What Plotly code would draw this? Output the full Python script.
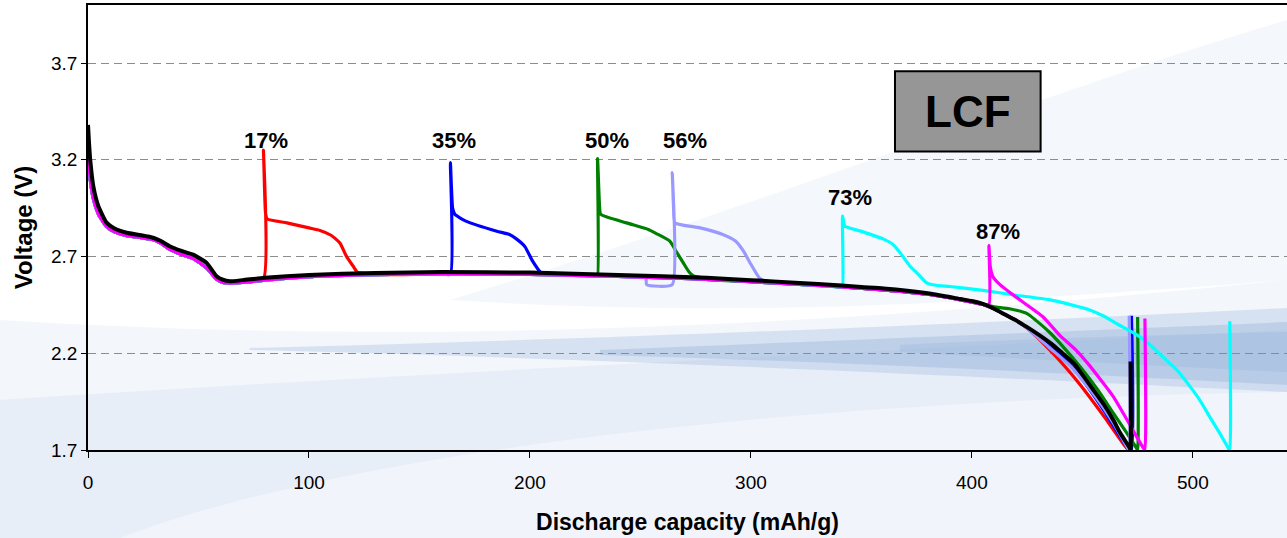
import plotly.graph_objects as go

# ---------------- data ----------------
# common discharge path shared by the interrupted (coloured) runs
common_x = [0, 1, 2.4, 4.7, 8.4, 12, 17.5, 24, 29.5, 33, 37, 42, 47.6, 53.7, 58.2, 61, 64.2, 70,
            80, 100, 130, 160, 200, 230, 250, 265, 280, 300, 320, 341, 360, 380, 395, 405]
common_v = [3.24, 3.10, 3.00, 2.92, 2.855, 2.828, 2.808, 2.797, 2.787, 2.768, 2.737, 2.712, 2.69,
            2.64, 2.582, 2.566, 2.562, 2.566, 2.578, 2.595, 2.606, 2.61, 2.608, 2.60, 2.594, 2.588,
            2.582, 2.57, 2.557, 2.543, 2.528, 2.505, 2.476, 2.452]

# continuous reference discharge (black)
black_x = [0, 0.5, 1, 2.4, 4.7, 8.4, 12, 17.5, 24, 29.5, 33, 37, 42, 47.6, 53.7, 58.2, 61, 64.2,
           70, 80, 100, 130, 160, 200, 240, 280, 300, 320, 341, 350, 360, 380, 395, 400, 405, 410,
           415, 420, 425, 431, 437, 441, 446, 449, 455, 460, 464, 467, 470, 471.5, 471.8, 471.8]
black_v = [3.38, 3.28, 3.20, 3.064, 2.96, 2.875, 2.845, 2.823, 2.81, 2.797, 2.78, 2.753, 2.73,
           2.71, 2.667, 2.598, 2.58, 2.572, 2.578, 2.59, 2.605, 2.615, 2.62, 2.617, 2.605, 2.59,
           2.578, 2.565, 2.55, 2.542, 2.535, 2.51, 2.48, 2.47, 2.455, 2.43, 2.40, 2.37, 2.335,
           2.29, 2.24, 2.20, 2.15, 2.105, 2.01, 1.93, 1.855, 1.79, 1.736, 1.71, 1.70, 2.157]

# 17 %
red_detour_x = [79.4, 79.4, 80.3, 81, 90, 100, 105, 110, 114, 117, 120, 122, 126]
red_detour_v = [2.585, 3.25, 2.93, 2.895, 2.874, 2.848, 2.835, 2.81, 2.77, 2.70, 2.65, 2.618, 2.612]
red_tail_x = [410, 415, 420, 426, 435, 443, 449, 460, 470, 471.5, 471.5]
red_tail_v = [2.43, 2.40, 2.37, 2.32, 2.22, 2.12, 2.037, 1.87, 1.71, 1.70, 2.39]

# 35 %
blue_detour_x = [164, 164, 165, 166, 171, 185, 190.5, 194, 197.8, 201, 205, 208]
blue_detour_v = [2.608, 3.185, 2.95, 2.918, 2.883, 2.831, 2.815, 2.79, 2.75, 2.68, 2.617, 2.61]
blue_tail_x = [410, 415, 420, 430, 440, 449, 460, 470, 472.2, 472.2]
blue_tail_v = [2.43, 2.40, 2.37, 2.29, 2.20, 2.08, 1.90, 1.72, 1.70, 2.394]

# 50 %
green_detour_x = [230.6, 230.6, 231.5, 232, 243.7, 253.6, 257, 263.3, 266, 269.4, 272, 274, 278]
green_detour_v = [2.60, 3.206, 2.96, 2.918, 2.874, 2.84, 2.82, 2.78, 2.73, 2.667, 2.62, 2.60, 2.59]
green_tail_x = [410, 417, 425, 429, 435, 440, 449, 457, 464, 470, 474.5, 475, 475]
green_tail_v = [2.44, 2.43, 2.405, 2.37, 2.31, 2.25, 2.13, 2.01, 1.89, 1.79, 1.71, 1.70, 2.387]

# 56 %
lav_detour_x = [252.5, 252.8, 264.4, 264.4, 265, 265.6, 277, 287, 293, 296.5, 300, 303.8, 306, 312]
lav_detour_v = [2.596, 2.555, 2.555, 3.134, 2.95, 2.874, 2.848, 2.815, 2.78, 2.73, 2.66, 2.59,
                2.575, 2.565]
lav_tail_x = [415, 425, 435, 445, 455, 464, 470.5, 471.2, 471.2]
lav_tail_v = [2.40, 2.33, 2.23, 2.13, 1.99, 1.84, 1.71, 1.70, 2.394]

# 73 %
cyan_detour_x = [341.5, 341.5, 342.5, 350, 360, 364, 367.5, 372, 375, 379.5, 383, 390, 405, 420,
                 435, 445, 453, 460, 466, 474.5, 480, 486.5, 493, 498.6, 503, 507.7, 512, 516,
                 516.7, 516.7]
cyan_detour_v = [2.545, 2.909, 2.857, 2.83, 2.79, 2.765, 2.72, 2.65, 2.617, 2.564, 2.553, 2.545,
                 2.525, 2.50, 2.477, 2.45, 2.425, 2.39, 2.35, 2.296, 2.25, 2.18, 2.11, 2.03, 1.96,
                 1.87, 1.79, 1.71, 1.70, 2.365]

# 87 %
mag_detour_x = [407.7, 407.7, 408.3, 409.5, 412.7, 420, 432, 440, 447, 453, 464, 470, 475, 477.6,
                478.3, 478.3]
mag_detour_v = [2.45, 2.757, 2.65, 2.596, 2.555, 2.49, 2.39, 2.29, 2.218, 2.14, 1.976, 1.86, 1.76,
                1.71, 1.70, 2.38]

labels = ["17%", "35%", "50%", "56%", "73%", "87%"]
label_x = [80.5, 165.6, 234.8, 270, 344.8, 411.8]
label_v = [3.30, 3.30, 3.30, 3.30, 3.006, 2.83]

x_ticks = [0, 100, 200, 300, 400, 500]
y_ticks = [1.7, 2.2, 2.7, 3.2, 3.7]


def build(start, detour_x, detour_v, rejoin=None, tail_x=None, tail_v=None):
    xs = [x for x in common_x if x < start]
    vs = [v for x, v in zip(common_x, common_v) if x < start]
    xs += detour_x
    vs += detour_v
    if rejoin is not None:
        for x, v in zip(common_x, common_v):
            if rejoin < x <= 405:
                xs.append(x)
                vs.append(v)
        xs += tail_x
        vs += tail_v
    return xs, vs


series = [
    ("17%", "#ff0000", build(79.4, red_detour_x, red_detour_v, 126, red_tail_x, red_tail_v)),
    ("35%", "#0000ff", build(164, blue_detour_x, blue_detour_v, 208, blue_tail_x, blue_tail_v)),
    ("50%", "#008000", build(230.6, green_detour_x, green_detour_v, 278, green_tail_x, green_tail_v)),
    ("56%", "#9999ff", build(252.5, lav_detour_x, lav_detour_v, 312, lav_tail_x, lav_tail_v)),
    ("73%", "#00ffff", build(341.5, cyan_detour_x, cyan_detour_v)),
    ("87%", "#ff00ff", build(407.7, mag_detour_x, mag_detour_v)),
]

fig = go.Figure()
for name, col, (xs, vs) in series:
    fig.add_trace(go.Scatter(x=xs, y=vs, mode="lines", name=name,
                             line=dict(color=col, width=3.2, shape="spline", smoothing=0.5)))
fig.add_trace(go.Scatter(x=black_x, y=black_v, mode="lines", name="continuous",
                         line=dict(color="#000000", width=4, shape="spline", smoothing=0.5)))

FONT = "Liberation Sans, Arial, sans-serif"

for t, x, v in zip(labels, label_x, label_v):
    fig.add_annotation(x=x, y=v, text="<b>%s</b>" % t, showarrow=False,
                       font=dict(family=FONT, size=22, color="black"),
                       xanchor="center", yanchor="middle")

# LCF box
fig.add_shape(type="rect", x0=365.2, x1=431.1, y0=3.243, y1=3.657,
              fillcolor="#969696", line=dict(color="black", width=2), layer="above")
fig.add_annotation(x=398.2, y=3.45, text="<b>LCF</b>", showarrow=False,
                   font=dict(family=FONT, size=44, color="black"),
                   xanchor="center", yanchor="middle")

# decorative background swooshes (pixel paths -> paper coords)
L, R, T, B = 88.3, 1287.0, 5.0, 450.0


def ppath(cmds):
    out = []
    for c in cmds:
        if isinstance(c, str):
            out.append(c)
        else:
            px, py = c
            out.append("%.4f,%.4f" % ((px - L) / (R - L), (B - py) / (B - T)))
    return " ".join(out)


bg = [
    # broad pale wash over the lower part
    (["M", (0, 538), "L", (0, 320), "C", (400, 345), (800, 330), (1287, 280), "L", (1287, 538), "Z"],
     "rgba(215,226,242,0.30)"),
    (["M", (0, 538), "L", (0, 400), "C", (300, 380), (700, 360), (1287, 330), "L", (1287, 538), "Z"],
     "rgba(200,215,238,0.25)"),
    # faint upper-right wedge
    (["M", (450, 300), "C", (750, 210), (1050, 90), (1287, 20), "L", (1287, 280), "C", (900, 310),
      (700, 315), (450, 300), "Z"], "rgba(220,230,244,0.30)"),
    # horizontal darker band tapering to the left
    (["M", (250, 348), "C", (650, 338), (1000, 322), (1287, 308), "L", (1287, 392), "C", (1000, 378),
      (650, 360), (250, 350), "Z"], "rgba(150,178,220,0.30)"),
    (["M", (600, 350), "C", (850, 340), (1100, 330), (1287, 322), "L", (1287, 385), "C", (1100, 375),
      (850, 362), (600, 355), "Z"], "rgba(140,170,215,0.32)"),
    (["M", (900, 345), "C", (1050, 338), (1200, 334), (1287, 332), "L", (1287, 372), "C", (1200, 368),
      (1050, 360), (900, 352), "Z"], "rgba(140,170,215,0.25)"),
    # lighter lower swoosh
    (["M", (120, 538), "C", (350, 450), (800, 400), (1287, 392), "L", (1287, 538), "Z"],
     "rgba(248,250,253,0.55)"),
]
for cmds, col in bg:
    fig.add_shape(type="path", path=ppath(cmds), xref="paper", yref="paper",
                  fillcolor=col, line=dict(width=0), layer="below")

fig.update_layout(
    width=1287, height=538,
    margin=dict(l=88, r=0, t=5, b=88),
    paper_bgcolor="white", plot_bgcolor="rgba(0,0,0,0)",
    showlegend=False,
    font=dict(family=FONT, color="black"),
)
fig.update_xaxes(
    range=[0, 542.6], tickvals=x_ticks, ticks="outside", ticklen=6, tickcolor="black",
    tickfont=dict(size=19), ticklabelstandoff=8,
    showline=True, linecolor="black", linewidth=1.5, mirror=True,
    showgrid=False, zeroline=False,
    title=dict(text="<b>Discharge capacity (mAh/g)</b>", font=dict(size=23), standoff=22),
)
fig.update_yaxes(
    range=[1.7, 4.0], tickvals=y_ticks, ticktext=["%.1f" % v for v in y_ticks],
    ticks="outside", ticklen=5, tickcolor="black", tickfont=dict(size=19),
    showline=True, linecolor="black", linewidth=1.5, mirror=False,
    showgrid=True, gridcolor="#8c8c8c", gridwidth=1, griddash="8px,5px", zeroline=False,
    title=dict(text="<b>Voltage (V)</b>", font=dict(size=24), standoff=12),
)

fig.write_html("out.html")
